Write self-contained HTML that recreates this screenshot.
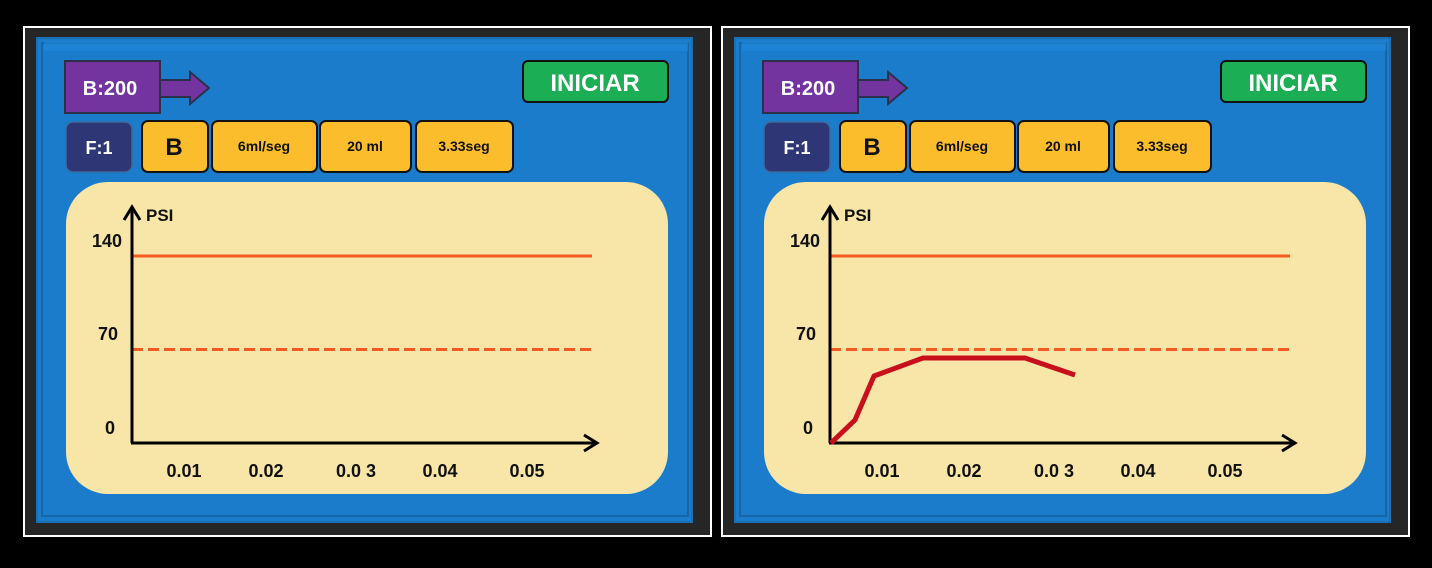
<!DOCTYPE html>
<html><head><meta charset="utf-8"><style>
html,body{margin:0;padding:0;background:#000;width:1432px;height:568px;overflow:hidden}
svg{display:block}
text{font-family:"Liberation Sans",Arial,sans-serif;font-weight:bold}
</style></head><body>
<svg width="1432" height="568" viewBox="0 0 1432 568">
<defs>
<g id="panel">
  <rect x="24" y="27" width="687" height="509" fill="#262626" stroke="#fff" stroke-width="2"/>
  <rect x="36" y="37" width="657" height="486" fill="#1a6fb5"/>
  <rect x="38" y="39" width="653" height="482" fill="#1b7ccc"/>
  <rect x="42" y="43" width="646" height="473" fill="none" stroke="#1766a8" stroke-width="2"/>
  <rect x="44" y="41" width="644" height="10" fill="#2289db" opacity="0.6"/>
  <rect x="66" y="182" width="602" height="312" rx="42" ry="42" fill="#f8e6a8"/>
  <polygon points="158,80 190,80 190,72 209,88 190,104 190,97 158,97" fill="#7434a0" stroke="#2a2f4a" stroke-width="2"/>
  <rect x="65" y="61" width="95" height="52" fill="#7434a0" stroke="#2a2f4a" stroke-width="2"/>
  <text x="110" y="95" font-size="20" fill="#fff" text-anchor="middle">B:200</text>
  <rect x="523" y="61" width="145" height="41" rx="5" fill="#1cae55" stroke="#111" stroke-width="2"/>
  <text x="595" y="91" font-size="24" fill="#fff" text-anchor="middle">INICIAR</text>
  <rect x="66" y="122" width="66" height="50" rx="7" fill="#2e3675" stroke="#3b6a9c" stroke-width="1.5"/>
  <text x="99" y="154" font-size="18" fill="#fff" text-anchor="middle">F:1</text>
  <rect x="142" y="121" width="66" height="51" rx="6" fill="#fbbd2b" stroke="#111" stroke-width="2"/>
  <text x="174" y="155" font-size="24" fill="#111" text-anchor="middle">B</text>
  <rect x="212" y="121" width="105" height="51" rx="6" fill="#fbbd2b" stroke="#111" stroke-width="2"/>
  <text x="264" y="151" font-size="14" fill="#111" text-anchor="middle">6ml/seg</text>
  <rect x="320" y="121" width="91" height="51" rx="6" fill="#fbbd2b" stroke="#111" stroke-width="2"/>
  <text x="365" y="151" font-size="14" fill="#111" text-anchor="middle">20 ml</text>
  <rect x="416" y="121" width="97" height="51" rx="6" fill="#fbbd2b" stroke="#111" stroke-width="2"/>
  <text x="464" y="151" font-size="14" fill="#111" text-anchor="middle">3.33seg</text>
  <line x1="132" y1="256" x2="592" y2="256" stroke="#f45a22" stroke-width="3"/>
  <line x1="132" y1="349.5" x2="592" y2="349.5" stroke="#f45a22" stroke-width="3" stroke-dasharray="11,5"/>
  <line x1="132" y1="443" x2="132" y2="210" stroke="#000" stroke-width="3"/>
  <polyline points="124,220 132,207 140,220" fill="none" stroke="#000" stroke-width="3"/>
  <line x1="131" y1="443" x2="596" y2="443" stroke="#000" stroke-width="3"/>
  <polyline points="584,435 597,443 584,451" fill="none" stroke="#000" stroke-width="3"/>
  <text x="146" y="221" font-size="17" fill="#111">PSI</text>
  <text x="122" y="247" font-size="18" fill="#111" text-anchor="end">140</text>
  <text x="118" y="340" font-size="18" fill="#111" text-anchor="end">70</text>
  <text x="115" y="434" font-size="18" fill="#111" text-anchor="end">0</text>
  <g font-size="18" fill="#111" text-anchor="middle">
    <text x="184" y="477">0.01</text>
    <text x="266" y="477">0.02</text>
    <text x="356" y="477">0.0 3</text>
    <text x="440" y="477">0.04</text>
    <text x="527" y="477">0.05</text>
  </g>
</g>
</defs>
<use href="#panel"/>
<use href="#panel" x="698"/>
<polyline transform="translate(698,0)" points="133,443 157,420 176,376 225,358 327,358 377,375" fill="none" stroke="#c8101c" stroke-width="5" stroke-linejoin="round"/>
</svg>
</body></html>
